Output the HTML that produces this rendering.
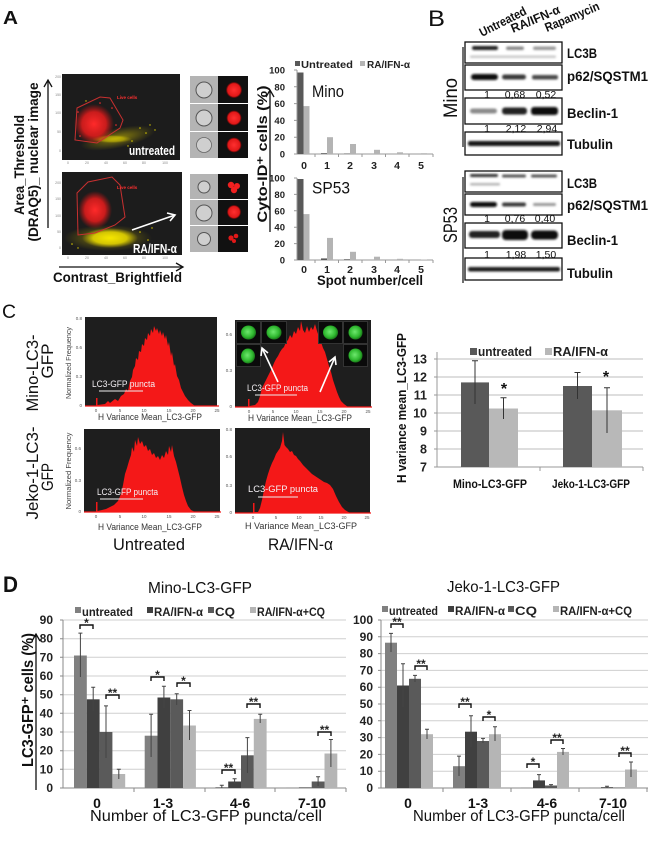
<!DOCTYPE html>
<html><head><meta charset="utf-8"><style>
html,body{margin:0;padding:0;background:#fff;}
svg{display:block;font-family:"Liberation Sans",Arial,sans-serif;}
</style></head><body>
<svg width="650" height="844" viewBox="0 0 650 844" xmlns="http://www.w3.org/2000/svg">
<defs>
<radialGradient id="rg" cx="50%" cy="50%" r="50%"><stop offset="0" stop-color="#ff2a2a"/><stop offset="0.6" stop-color="#e81c1c" stop-opacity="0.85"/><stop offset="1" stop-color="#d01010" stop-opacity="0"/></radialGradient>
<radialGradient id="yg" cx="50%" cy="50%" r="50%"><stop offset="0" stop-color="#f5e600"/><stop offset="0.6" stop-color="#e8d800" stop-opacity="0.85"/><stop offset="1" stop-color="#d0c000" stop-opacity="0"/></radialGradient>
<radialGradient id="yf" cx="50%" cy="50%" r="50%"><stop offset="0" stop-color="#d8c800" stop-opacity="0.6"/><stop offset="1" stop-color="#c0b000" stop-opacity="0"/></radialGradient>
<radialGradient id="gg" cx="45%" cy="45%" r="55%"><stop offset="0" stop-color="#6ee86e"/><stop offset="0.7" stop-color="#2fb82f"/><stop offset="1" stop-color="#1a7a1a"/></radialGradient>
<radialGradient id="rb" cx="50%" cy="50%" r="50%"><stop offset="0" stop-color="#ff3030"/><stop offset="0.8" stop-color="#e01818"/><stop offset="1" stop-color="#900" stop-opacity="0.3"/></radialGradient>
<filter id="bl" x="-20%" y="-150%" width="140%" height="400%"><feGaussianBlur stdDeviation="1"/></filter>
</defs>

<!-- ================= PANEL A ================= -->
<text x="3" y="24" font-size="18" font-weight="bold" textLength="15" lengthAdjust="spacingAndGlyphs" fill="#111">A</text>

<!-- scatter 1 -->
<rect x="62" y="74" width="118" height="86" fill="#1c1c1c"/>
<g font-size="3.5" fill="#888" text-anchor="end"><text x="61" y="78">200</text><text x="61" y="96">150</text><text x="61" y="114">100</text><text x="61" y="133">50</text><text x="61" y="152">0</text></g>
<g font-size="3.5" fill="#888" text-anchor="middle"><text x="68" y="164">0</text><text x="87" y="164">20</text><text x="106" y="164">40</text><text x="125" y="164">60</text><text x="144" y="164">80</text><text x="165" y="164">100</text></g>
<ellipse cx="118" cy="138" rx="38" ry="10" fill="url(#yf)" transform="rotate(-12 118 138)"/>
<ellipse cx="112" cy="139" rx="20" ry="4" fill="url(#yg)" opacity="0.55"/>
<g fill="#d8c800"><circle cx="140" cy="128" r="0.8"/><circle cx="146" cy="133" r="0.8"/><circle cx="132" cy="141" r="0.8"/><circle cx="150" cy="125" r="0.7"/><circle cx="128" cy="146" r="0.7"/><circle cx="86" cy="101" r="0.7"/><circle cx="155" cy="130" r="0.7"/></g>
<ellipse cx="94" cy="124" rx="20" ry="20" fill="url(#rg)"/>
<g fill="#ff3030"><circle cx="78" cy="112" r="0.8"/><circle cx="112" cy="108" r="0.8"/><circle cx="116" cy="125" r="0.8"/><circle cx="80" cy="136" r="0.8"/><circle cx="100" cy="103" r="0.8"/></g>
<polygon points="77,108 100,97 110,98 123,120 120,128 97,143 75,140" fill="none" stroke="#c83030" stroke-width="1"/>
<text x="117" y="99" font-size="4.5" fill="#ff3030" font-weight="bold">Live cells</text>
<text x="129" y="155" font-size="12.5" font-weight="bold" fill="#fff" textLength="46" lengthAdjust="spacingAndGlyphs">untreated</text>

<!-- scatter 2 -->
<rect x="62" y="172" width="120" height="83" fill="#1c1c1c"/>
<g font-size="3.5" fill="#888" text-anchor="end"><text x="61" y="184">200</text><text x="61" y="200">150</text><text x="61" y="217">100</text><text x="61" y="233">50</text><text x="61" y="249">0</text></g>
<g font-size="3.5" fill="#888" text-anchor="middle"><text x="68" y="259">0</text><text x="87" y="259">20</text><text x="106" y="259">40</text><text x="125" y="259">60</text><text x="144" y="259">80</text><text x="165" y="259">100</text></g>
<ellipse cx="108" cy="238" rx="44" ry="13" fill="url(#yf)"/>
<ellipse cx="95" cy="210" rx="17" ry="19" fill="url(#rg)"/>
<ellipse cx="110" cy="238" rx="28" ry="10" fill="url(#yg)"/>
<g fill="#d8c800"><circle cx="140" cy="232" r="0.8"/><circle cx="148" cy="240" r="0.8"/><circle cx="72" cy="244" r="0.8"/><circle cx="78" cy="248" r="0.7"/><circle cx="152" cy="228" r="0.7"/></g>
<polygon points="77,193 88,182 112,177 120,185 125,217 115,225 95,233 78,235" fill="none" stroke="#c83030" stroke-width="1"/>
<text x="117" y="189" font-size="4.5" fill="#ff3030" font-weight="bold">Live cells</text>
<path d="M132,230 L175,215" stroke="#fff" stroke-width="1.6"/>
<path d="M167,213 L175,215 L170,221" stroke="#fff" stroke-width="1.6" fill="none"/>
<text x="133" y="253" font-size="12.5" font-weight="bold" fill="#fff" textLength="44" lengthAdjust="spacingAndGlyphs">RA/IFN-α</text>

<!-- cell images plot1 -->
<g>
<rect x="190" y="76" width="28" height="27" fill="#b4b4b4"/>
<rect x="190" y="104" width="28" height="27" fill="#b4b4b4"/>
<rect x="190" y="132" width="28" height="26" fill="#b4b4b4"/>
<circle cx="204" cy="90" r="8" fill="#cfcfcf" stroke="#555" stroke-width="1"/>
<circle cx="204" cy="118" r="8" fill="#cfcfcf" stroke="#555" stroke-width="1"/>
<circle cx="204" cy="145" r="7.5" fill="#cfcfcf" stroke="#666" stroke-width="0.8"/>
<rect x="218" y="76" width="30" height="27" fill="#111"/>
<rect x="218" y="104" width="30" height="27" fill="#111"/>
<rect x="218" y="132" width="30" height="26" fill="#111"/>
<circle cx="234" cy="90" r="8" fill="url(#rb)"/>
<circle cx="234" cy="118" r="7.5" fill="url(#rb)"/>
<circle cx="234" cy="145" r="7.5" fill="url(#rb)"/>
</g>
<!-- cell images plot2 -->
<g>
<rect x="190" y="174" width="28" height="25" fill="#b4b4b4"/>
<rect x="190" y="200" width="28" height="25" fill="#b4b4b4"/>
<rect x="190" y="226" width="28" height="26" fill="#b4b4b4"/>
<circle cx="204" cy="187" r="6" fill="#cfcfcf" stroke="#555" stroke-width="1"/>
<circle cx="204" cy="213" r="8" fill="#cfcfcf" stroke="#555" stroke-width="1"/>
<circle cx="204" cy="239" r="6.5" fill="#cfcfcf" stroke="#555" stroke-width="1"/>
<rect x="218" y="174" width="30" height="25" fill="#111"/>
<rect x="218" y="200" width="30" height="25" fill="#111"/>
<rect x="218" y="226" width="30" height="26" fill="#111"/>
<circle cx="231" cy="185" r="3.2" fill="#f02020"/><circle cx="237" cy="186" r="3" fill="#f02020"/><circle cx="234" cy="190" r="3.2" fill="#f02020"/>
<circle cx="234" cy="212" r="7" fill="url(#rb)"/>
<circle cx="231" cy="238" r="2.6" fill="#e01818"/><circle cx="236" cy="236" r="2.3" fill="#e01818"/><circle cx="234" cy="241" r="2" fill="#e01818"/>
</g>

<!-- y label A -->
<text transform="translate(24,165) rotate(-90)" text-anchor="middle" font-size="14" font-weight="bold" fill="#111" textLength="100" lengthAdjust="spacingAndGlyphs">Area_Threshold</text>
<text transform="translate(38,162) rotate(-90)" text-anchor="middle" font-size="14" font-weight="bold" fill="#111" textLength="159" lengthAdjust="spacingAndGlyphs">(DRAQ5)_ nuclear image</text>
<path d="M48,228 L48,80" stroke="#111" stroke-width="1.3"/>
<path d="M44,87 L48,80 L52,87" stroke="#111" stroke-width="1.3" fill="none"/>
<path d="M59,267 L183,267" stroke="#111" stroke-width="1.3"/>
<path d="M176,263 L183,267 L176,271" stroke="#111" stroke-width="1.3" fill="none"/>
<text x="53" y="282" font-size="14" font-weight="bold" fill="#111" textLength="129" lengthAdjust="spacingAndGlyphs">Contrast_Brightfield</text>

<!-- A bar charts -->
<rect x="295" y="61" width="5" height="5" fill="#595959"/>
<text x="301" y="68" font-size="10" font-weight="bold" fill="#222" textLength="52" lengthAdjust="spacingAndGlyphs">Untreated</text>
<rect x="360" y="61" width="5" height="5" fill="#b4b4b4"/>
<text x="367" y="68" font-size="10" font-weight="bold" fill="#222" textLength="43" lengthAdjust="spacingAndGlyphs">RA/IFN-α</text>

<g font-size="9.5" font-weight="bold" fill="#222" text-anchor="end">
<text x="285" y="73.5">100</text><text x="285" y="90.3">80</text><text x="285" y="107.1">60</text><text x="285" y="123.9">40</text><text x="285" y="140.7">20</text><text x="285" y="157.5">0</text>
<text x="285" y="181.5">100</text><text x="285" y="197.9">80</text><text x="285" y="214.3">60</text><text x="285" y="230.7">40</text><text x="285" y="247.1">20</text><text x="285" y="263.5">0</text>
</g>
<g stroke="#999" stroke-width="1" fill="none">
<path d="M297,70 V154 H433"/>
<path d="M294,70 H297 M294,86.8 H297 M294,103.6 H297 M294,120.4 H297 M294,137.2 H297 M294,154 H297"/>
<path d="M315,154 V157 M338.5,154 V157 M362,154 V157 M385.5,154 V157 M409,154 V157 M433,154 V157"/>
<path d="M297,178 V260 H433"/>
<path d="M294,178 H297 M294,194.4 H297 M294,210.8 H297 M294,227.2 H297 M294,243.6 H297 M294,260 H297"/>
<path d="M315,260 V263 M338.5,260 V263 M362,260 V263 M385.5,260 V263 M409,260 V263 M433,260 V263"/>
</g>
<g fill="#595959">
<rect x="297.5" y="72.5" width="6" height="81.5"/>
<rect x="321" y="153.2" width="6" height="0.8"/>
<rect x="344" y="153.6" width="6" height="0.4"/>
</g>
<g fill="#b4b4b4">
<rect x="303.5" y="106.1" width="6" height="47.9"/>
<rect x="327" y="137.2" width="6" height="16.8"/>
<rect x="350" y="144" width="6" height="10"/>
<rect x="374" y="149.8" width="6" height="4.2"/>
<rect x="397" y="152.3" width="6" height="1.7"/>
<rect x="421" y="153.2" width="6" height="0.8"/>
</g>
<g fill="#595959">
<rect x="297.5" y="179" width="6" height="81"/>
<rect x="321" y="258.4" width="6" height="1.6"/>
<rect x="344" y="259.3" width="6" height="0.7"/>
</g>
<g fill="#b4b4b4">
<rect x="303.5" y="214.1" width="6" height="45.9"/>
<rect x="327" y="237.9" width="6" height="22.1"/>
<rect x="350" y="251.8" width="6" height="8.2"/>
<rect x="374" y="256.7" width="6" height="3.3"/>
<rect x="397" y="258.8" width="6" height="1.2"/>
<rect x="421" y="259.5" width="6" height="0.5"/>
</g>
<g font-size="10.5" font-weight="bold" fill="#222" text-anchor="middle">
<text x="304" y="169">0</text><text x="327" y="169">1</text><text x="350" y="169">2</text><text x="374" y="169">3</text><text x="397" y="169">4</text><text x="421" y="169">5</text>
<text x="304" y="273">0</text><text x="327" y="273">1</text><text x="350" y="273">2</text><text x="374" y="273">3</text><text x="397" y="273">4</text><text x="421" y="273">5</text>
</g>
<text x="312" y="97" font-size="17" fill="#111" textLength="32" lengthAdjust="spacingAndGlyphs">Mino</text>
<text x="312" y="193.5" font-size="16.5" fill="#111" textLength="38" lengthAdjust="spacingAndGlyphs">SP53</text>
<text x="317" y="285" font-size="13.5" font-weight="bold" fill="#111" textLength="106" lengthAdjust="spacingAndGlyphs">Spot number/cell</text>
<text transform="translate(267,154) rotate(-90)" text-anchor="middle" font-size="14" font-weight="bold" fill="#111" textLength="137" lengthAdjust="spacingAndGlyphs">Cyto-ID⁺ cells (%)</text>
<path d="M270,232 L270,90" stroke="#111" stroke-width="1.3"/>
<path d="M266,97 L270,90 L274,97" stroke="#111" stroke-width="1.3" fill="none"/>

<!-- ================= PANEL B ================= -->
<text x="428" y="26" font-size="22" fill="#111" textLength="17" lengthAdjust="spacingAndGlyphs">B</text>
<g font-size="12.5" font-weight="bold" fill="#111">
<text transform="translate(482,37) rotate(-27)" textLength="51" lengthAdjust="spacingAndGlyphs">Untreated</text>
<text transform="translate(513,33) rotate(-23)" textLength="52" lengthAdjust="spacingAndGlyphs">RA/IFN-α</text>
<text transform="translate(547,32) rotate(-23)" textLength="58" lengthAdjust="spacingAndGlyphs">Rapamycin</text>
</g>
<path d="M463,47 V147 M463,177 V283" stroke="#111" stroke-width="1.2"/>
<text transform="translate(457,98) rotate(-90)" text-anchor="middle" font-size="19" fill="#111" textLength="40" lengthAdjust="spacingAndGlyphs">Mino</text>
<text transform="translate(457,225) rotate(-90)" text-anchor="middle" font-size="19" fill="#111" textLength="36" lengthAdjust="spacingAndGlyphs">SP53</text>

<g fill="#fff" stroke="#111" stroke-width="1.3">
<rect x="465" y="42" width="97" height="21"/>
<rect x="465" y="65" width="97" height="25"/>
<rect x="465" y="98" width="97" height="26"/>
<rect x="465" y="132" width="97" height="23"/>
<rect x="465" y="171" width="97" height="21"/>
<rect x="465" y="194" width="97" height="21"/>
<rect x="465" y="223" width="97" height="25"/>
<rect x="465" y="258" width="97" height="22"/>
</g>
<g filter="url(#bl)">
<rect x="472" y="46" width="26" height="4" rx="2" fill="#222"/>
<rect x="506" y="46.5" width="18" height="3.5" rx="2" fill="#888"/>
<rect x="533" y="46.5" width="23" height="3.5" rx="2" fill="#999"/>
<rect x="470" y="55.5" width="86" height="2.5" rx="1" fill="#c8c8c8"/>
<rect x="471" y="74" width="27" height="6" rx="3" fill="#111"/>
<rect x="502" y="74.5" width="24" height="5" rx="2.5" fill="#3a3a3a"/>
<rect x="532" y="75" width="26" height="4.5" rx="2" fill="#4a4a4a"/>
<rect x="470" y="108.5" width="27" height="5" rx="2.5" fill="#8a8a8a"/>
<rect x="502" y="107.5" width="25" height="7" rx="3" fill="#222"/>
<rect x="531" y="107" width="27" height="8" rx="3" fill="#0d0d0d"/>
<rect x="468" y="141" width="92" height="5" rx="2" fill="#151515"/>
<rect x="470" y="174" width="28" height="3" rx="1.5" fill="#333"/>
<rect x="502" y="174.5" width="24" height="3" rx="1.5" fill="#555"/>
<rect x="531" y="174.5" width="26" height="3" rx="1.5" fill="#555"/>
<rect x="470" y="183" width="30" height="2.5" rx="1" fill="#b5b5b5"/>
<rect x="470" y="202" width="27" height="5" rx="2.5" fill="#111"/>
<rect x="502" y="202.5" width="24" height="4" rx="2" fill="#3a3a3a"/>
<rect x="533" y="203" width="23" height="3" rx="1.5" fill="#999"/>
<rect x="469" y="231" width="31" height="7" rx="3" fill="#202020"/>
<rect x="502" y="230" width="26" height="10" rx="4" fill="#080808"/>
<rect x="531" y="230.5" width="27" height="9" rx="4" fill="#101010"/>
<rect x="468" y="267" width="92" height="4.5" rx="2" fill="#1e1e1e"/>
</g>
<g font-size="14" font-weight="bold" fill="#111">
<text x="567" y="58" textLength="30" lengthAdjust="spacingAndGlyphs">LC3B</text>
<text x="567" y="81" textLength="81" lengthAdjust="spacingAndGlyphs">p62/SQSTM1</text>
<text x="567" y="118" textLength="51" lengthAdjust="spacingAndGlyphs">Beclin-1</text>
<text x="567" y="149" textLength="46" lengthAdjust="spacingAndGlyphs">Tubulin</text>
<text x="567" y="188" textLength="30" lengthAdjust="spacingAndGlyphs">LC3B</text>
<text x="567" y="210" textLength="81" lengthAdjust="spacingAndGlyphs">p62/SQSTM1</text>
<text x="567" y="245" textLength="51" lengthAdjust="spacingAndGlyphs">Beclin-1</text>
<text x="567" y="278" textLength="46" lengthAdjust="spacingAndGlyphs">Tubulin</text>
</g>
<g font-size="10.5" fill="#111" text-anchor="middle">
<text x="487" y="98">1</text><text x="515" y="98">0,68</text><text x="546" y="98">0,52</text>
<text x="487" y="132">1</text><text x="516" y="132">2,12</text><text x="547" y="132">2,94</text>
<text x="487" y="222">1</text><text x="515" y="222">0,76</text><text x="545" y="222">0,40</text>
<text x="487" y="258">1</text><text x="516" y="258">1,98</text><text x="546" y="258">1,50</text>
</g>

<!-- ================= PANEL C ================= -->
<text x="2" y="318" font-size="19" fill="#111" textLength="14" lengthAdjust="spacingAndGlyphs">C</text>
<text transform="translate(38,373) rotate(-90)" text-anchor="middle" font-size="17" fill="#111" textLength="77" lengthAdjust="spacingAndGlyphs">Mino-LC3-</text>
<text transform="translate(53,361) rotate(-90)" text-anchor="middle" font-size="17" fill="#111" textLength="35" lengthAdjust="spacingAndGlyphs">GFP</text>
<text transform="translate(38,473) rotate(-90)" text-anchor="middle" font-size="17" fill="#111" textLength="93" lengthAdjust="spacingAndGlyphs">Jeko-1-LC3-</text>
<text transform="translate(53,477) rotate(-90)" text-anchor="middle" font-size="17" fill="#111" textLength="28" lengthAdjust="spacingAndGlyphs">GFP</text>

<rect x="85" y="317" width="132" height="89" fill="#1e1e1e"/>
<rect x="235" y="320" width="136" height="87" fill="#1e1e1e"/>
<rect x="84" y="429" width="136" height="83" fill="#1e1e1e"/>
<rect x="235" y="428" width="135" height="85" fill="#1e1e1e"/>
<g fill="#f41818">
<path d="M96,406 L96,398 L97.5,398 L97.5,405 L105,404 L108,401 L110,403 L115,399 L118,401 L121,396 L124,394 L126,389 L128,391 L130,381 L132,377 L133,370 L135,366 L136,358 L138,360 L139,351 L141,352 L142,344 L144,346 L145,338 L147,340 L148,333 L150,336 L151,329 L153,333 L154,326 L156,331 L157,328 L159,334 L160,330 L162,336 L163,332 L165,339 L166,335 L168,346 L169,342 L171,356 L172,352 L174,366 L175,364 L177,376 L179,380 L181,388 L183,392 L185,396 L188,400 L191,403 L195,406 Z"/>
<path d="M248,407 L248,399 L249.5,399 L249.5,406 L255,405 L258,402 L260,396 L262,388 L264,384 L266,380 L268,376 L270,372 L272,368 L274,363 L276,359 L278,356 L280,352 L282,349 L284,347 L286,342 L288,340 L290,335 L292,338 L294,331 L296,334 L298,327 L300,331 L301,321 L303,330 L305,333 L307,326 L309,332 L311,327 L313,330 L315,324 L317,331 L319,337 L321,342 L323,348 L325,352 L327,359 L329,366 L331,372 L333,380 L335,386 L337,392 L339,397 L341,401 L344,404 L348,407 Z"/>
<path d="M96,512 L96,502 L97.5,502 L97.5,511 L102,510 L106,509 L110,507 L114,505 L118,501 L121,494 L123,485 L125,474 L127,468 L129,461 L131,455 L132,447 L134,452 L135,440 L137,446 L138,437 L140,444 L142,441 L144,447 L146,445 L148,451 L150,449 L152,455 L154,453 L156,458 L158,456 L160,460 L162,455 L164,458 L166,451 L168,455 L169,446 L171,452 L172,445 L174,456 L176,462 L178,470 L180,478 L182,487 L184,495 L186,501 L188,506 L191,510 L195,512 Z"/>
<path d="M253,513 L253,503 L254.5,503 L254.5,512 L258,512 L260,508 L262,500 L264,490 L266,481 L268,474 L270,468 L272,463 L274,459 L276,454 L278,451 L280,448 L282,441 L283,432 L284.5,445 L286,447 L288,449 L290,452 L292,451 L294,455 L296,456 L298,459 L300,461 L303,465 L306,468 L309,471 L312,474 L315,476 L318,478 L321,480 L324,482 L327,483 L330,485 L333,489 L336,496 L339,502 L342,507 L345,510 L350,513 Z"/>
</g>
<g stroke="#f41818" stroke-width="1.2">
<path d="M85,406 H219"/><path d="M235,407 H372"/><path d="M84,512 H221"/><path d="M235,513 H371"/>
</g>
<g font-size="4.5" fill="#555" text-anchor="middle">
<text x="96" y="412">0</text><text x="120" y="412">5</text><text x="144" y="412">10</text><text x="169" y="412">15</text><text x="193" y="412">20</text><text x="217" y="412">25</text>
<text x="249" y="413">0</text><text x="273" y="413">5</text><text x="296" y="413">10</text><text x="320" y="413">15</text><text x="344" y="413">20</text><text x="368" y="413">25</text>
<text x="96" y="518">0</text><text x="120" y="518">5</text><text x="144" y="518">10</text><text x="169" y="518">15</text><text x="193" y="518">20</text><text x="217" y="518">25</text>
<text x="253" y="519">0</text><text x="276" y="519">5</text><text x="299" y="519">10</text><text x="321" y="519">15</text><text x="344" y="519">20</text><text x="367" y="519">25</text>
</g>
<g font-size="4.5" fill="#555" text-anchor="end">
<text x="82" y="407">0</text><text x="82" y="378">0.3</text><text x="82" y="349">0.6</text><text x="82" y="320">0.8</text>
<text x="232" y="408">0</text><text x="232" y="372">0.3</text><text x="232" y="336">0.6</text>
<text x="81" y="513">0</text><text x="81" y="482">0.3</text><text x="81" y="450">0.6</text>
<text x="232" y="514">0</text><text x="232" y="487">0.3</text><text x="232" y="458">0.6</text><text x="232" y="431">0.8</text>
</g>
<text transform="translate(71,363) rotate(-90)" text-anchor="middle" font-size="7.5" fill="#444" textLength="72" lengthAdjust="spacingAndGlyphs">Normalized Frequency</text>
<text transform="translate(71,471) rotate(-90)" text-anchor="middle" font-size="7.5" fill="#444" textLength="77" lengthAdjust="spacingAndGlyphs">Normalized Frequency</text>
<g font-size="9.5" fill="#333">
<text x="98" y="420" textLength="104" lengthAdjust="spacingAndGlyphs">H Variance Mean_LC3-GFP</text>
<text x="248" y="421" textLength="104" lengthAdjust="spacingAndGlyphs">H Variance Mean_LC3-GFP</text>
<text x="98" y="530" textLength="104" lengthAdjust="spacingAndGlyphs">H Variance Mean_LC3-GFP</text>
<text x="245" y="529" textLength="112" lengthAdjust="spacingAndGlyphs">H Variance Mean_LC3-GFP</text>
</g>
<g font-size="9" fill="#f4f0f4">
<text x="92" y="387" textLength="63" lengthAdjust="spacingAndGlyphs">LC3-GFP puncta</text>
<text x="247" y="391" textLength="61" lengthAdjust="spacingAndGlyphs">LC3-GFP puncta</text>
<text x="97" y="495" textLength="61" lengthAdjust="spacingAndGlyphs">LC3-GFP puncta</text>
<text x="248" y="492" textLength="70" lengthAdjust="spacingAndGlyphs">LC3-GFP puncta</text>
</g>
<g stroke="#eee" stroke-width="1">
<path d="M99,391 H143"/><path d="M255,395 H297"/><path d="M100,499 H143"/><path d="M258,497 H298"/>
</g>
<g>
<rect x="236" y="321" width="51" height="23" fill="#333"/>
<rect x="236" y="344" width="25" height="23" fill="#333"/>
<rect x="237" y="322" width="23" height="21" fill="#0a0a0a"/>
<rect x="262" y="322" width="24" height="21" fill="#0a0a0a"/>
<rect x="237" y="345" width="23" height="21" fill="#0a0a0a"/>
<ellipse cx="248.5" cy="332.5" rx="7.5" ry="7" fill="url(#gg)"/>
<ellipse cx="274" cy="332.5" rx="7.5" ry="7" fill="url(#gg)"/>
<ellipse cx="248" cy="356" rx="7" ry="7.5" fill="url(#gg)"/>
<rect x="318" y="321" width="50" height="23" fill="#333"/>
<rect x="343" y="344" width="25" height="23" fill="#333"/>
<rect x="319" y="322" width="23" height="21" fill="#0a0a0a"/>
<rect x="344" y="322" width="23" height="21" fill="#0a0a0a"/>
<rect x="344" y="345" width="23" height="21" fill="#0a0a0a"/>
<ellipse cx="330.5" cy="332.5" rx="7.5" ry="7" fill="url(#gg)"/>
<ellipse cx="355.5" cy="332.5" rx="7" ry="7" fill="url(#gg)"/>
<ellipse cx="355.5" cy="355.5" rx="7" ry="7" fill="url(#gg)"/>
</g>
<g stroke="#fff" stroke-width="1.6" fill="none">
<path d="M278,382 L262,348"/><path d="M261,356 L262,348 L268,353"/>
<path d="M320,392 L335,357"/><path d="M329,362 L335,357 L336,365"/>
</g>
<text x="113" y="550" font-size="17" fill="#111" textLength="72" lengthAdjust="spacingAndGlyphs">Untreated</text>
<text x="268" y="550" font-size="17" fill="#111" textLength="65" lengthAdjust="spacingAndGlyphs">RA/IFN-α</text>

<!-- C bar chart -->
<g stroke="#bdbdbd" stroke-width="1">
<path d="M437,449 H643 M437,431 H643 M437,413 H643 M437,395 H643 M437,377 H643 M437,359 H643"/>
</g>
<path d="M437,352 V467 H643" stroke="#999" stroke-width="1" fill="none"/>
<path d="M434,467 H437 M434,449 H437 M434,431 H437 M434,413 H437 M434,395 H437 M434,377 H437 M434,359 H437 M540,467 V471 M643,467 V471" stroke="#999" stroke-width="1"/>
<rect x="461" y="382.4" width="28" height="84.6" fill="#595959"/>
<rect x="489" y="408.5" width="29" height="58.5" fill="#b8b8b8"/>
<rect x="563" y="386" width="29" height="81" fill="#595959"/>
<rect x="592" y="410.3" width="30" height="56.7" fill="#b8b8b8"/>
<g stroke="#333" stroke-width="1" fill="none">
<path d="M475,404 V360.8 M472,360.8 H478"/>
<path d="M503.5,419 V397.7 M500.5,397.7 H506.5"/>
<path d="M577.5,399 V372.5 M574.5,372.5 H580.5"/>
<path d="M607,433 V387.8 M604,387.8 H610"/>
</g>
<g font-size="16" font-weight="bold" fill="#111" text-anchor="middle">
<text x="504" y="394">*</text><text x="606" y="382">*</text>
</g>
<g font-size="12.5" font-weight="bold" fill="#222" text-anchor="end">
<text x="427" y="471.5">7</text><text x="427" y="453.5">8</text><text x="427" y="435.5">9</text><text x="427" y="417.5">10</text><text x="427" y="399.5">11</text><text x="427" y="381.5">12</text><text x="427" y="363.5">13</text>
</g>
<rect x="470" y="348" width="7" height="7" fill="#595959"/>
<text x="478" y="356" font-size="12.5" font-weight="bold" fill="#222" textLength="54" lengthAdjust="spacingAndGlyphs">untreated</text>
<rect x="545" y="348" width="7" height="7" fill="#b8b8b8"/>
<text x="553" y="356" font-size="12.5" font-weight="bold" fill="#222" textLength="55" lengthAdjust="spacingAndGlyphs">RA/IFN-α</text>
<g font-size="12" font-weight="bold" fill="#111">
<text x="453" y="488" textLength="74" lengthAdjust="spacingAndGlyphs">Mino-LC3-GFP</text>
<text x="552" y="488" textLength="78" lengthAdjust="spacingAndGlyphs">Jeko-1-LC3-GFP</text>
</g>
<text transform="translate(406,408) rotate(-90)" text-anchor="middle" font-size="13" font-weight="bold" fill="#111" textLength="150" lengthAdjust="spacingAndGlyphs">H variance mean_LC3-GFP</text>

<!-- ================= PANEL D ================= -->
<text x="3" y="592" font-size="22" font-weight="bold" fill="#111" textLength="15" lengthAdjust="spacingAndGlyphs">D</text>
<text x="148" y="593" font-size="16" fill="#111" textLength="104" lengthAdjust="spacingAndGlyphs">Mino-LC3-GFP</text>
<text x="447" y="592" font-size="16" fill="#111" textLength="113" lengthAdjust="spacingAndGlyphs">Jeko-1-LC3-GFP</text>

<g font-size="11.5" font-weight="bold" fill="#222">
<rect x="75" y="607" width="6" height="6" fill="#808080"/>
<text x="82" y="616" textLength="51" lengthAdjust="spacingAndGlyphs">untreated</text>
<rect x="147" y="607" width="6" height="6" fill="#404040"/>
<text x="154" y="616" textLength="49" lengthAdjust="spacingAndGlyphs">RA/IFN-α</text>
<rect x="208" y="607" width="6" height="6" fill="#5a5a5a"/>
<text x="215" y="616" textLength="20" lengthAdjust="spacingAndGlyphs">CQ</text>
<rect x="250" y="607" width="6" height="6" fill="#b5b5b5"/>
<text x="257" y="616" textLength="68" lengthAdjust="spacingAndGlyphs">RA/IFN-α+CQ</text>
<rect x="382" y="606" width="6" height="6" fill="#808080"/>
<text x="389" y="615" textLength="49" lengthAdjust="spacingAndGlyphs">untreated</text>
<rect x="448" y="606" width="6" height="6" fill="#404040"/>
<text x="455" y="615" textLength="50" lengthAdjust="spacingAndGlyphs">RA/IFN-α</text>
<rect x="508" y="606" width="6" height="6" fill="#5a5a5a"/>
<text x="515" y="615" textLength="22" lengthAdjust="spacingAndGlyphs">CQ</text>
<rect x="553" y="606" width="6" height="6" fill="#b5b5b5"/>
<text x="560" y="615" textLength="72" lengthAdjust="spacingAndGlyphs">RA/IFN-α+CQ</text>
</g>

<g stroke="#cfcfcf" stroke-width="1">
<path d="M63,769.3 H346 M63,750.7 H346 M63,732 H346 M63,713.3 H346 M63,694.7 H346 M63,676 H346 M63,657.3 H346 M63,638.7 H346 M63,620 H346"/>
<path d="M381,771.2 H648 M381,754.4 H648 M381,737.6 H648 M381,720.8 H648 M381,704 H648 M381,687.2 H648 M381,670.4 H648 M381,653.6 H648 M381,636.8 H648 M381,620 H648"/>
</g>
<g stroke="#8a8a8a" stroke-width="1" fill="none">
<path d="M63,620 V788 H346"/>
<path d="M60,788 H63 M60,769.3 H63 M60,750.7 H63 M60,732 H63 M60,713.3 H63 M60,694.7 H63 M60,676 H63 M60,657.3 H63 M60,638.7 H63 M60,620 H63"/>
<path d="M134,788 V792 M205,788 V792 M275,788 V792 M346,788 V792"/>
<path d="M381,620 V788 H648"/>
<path d="M378,788 H381 M378,771.2 H381 M378,754.4 H381 M378,737.6 H381 M378,720.8 H381 M378,704 H381 M378,687.2 H381 M378,670.4 H381 M378,653.6 H381 M378,636.8 H381 M378,620 H381"/>
<path d="M443,788 V792 M511,788 V792 M579,788 V792 M647,788 V792"/>
</g>
<g font-size="12" font-weight="bold" fill="#222" text-anchor="end">
<text x="53" y="792">0</text><text x="53" y="773.3">10</text><text x="53" y="754.7">20</text><text x="53" y="736">30</text><text x="53" y="717.3">40</text><text x="53" y="698.7">50</text><text x="53" y="680">60</text><text x="53" y="661.3">70</text><text x="53" y="642.7">80</text><text x="53" y="624">90</text>
<text x="373" y="792">0</text><text x="373" y="775.2">10</text><text x="373" y="758.4">20</text><text x="373" y="741.6">30</text><text x="373" y="724.8">40</text><text x="373" y="708">50</text><text x="373" y="691.2">60</text><text x="373" y="674.4">70</text><text x="373" y="657.6">80</text><text x="373" y="640.8">90</text><text x="373" y="624">100</text>
</g>

<g fill="#808080">
<rect x="74" y="655.5" width="12.8" height="132.5"/><rect x="144.7" y="735.7" width="12.8" height="52.3"/><rect x="215.4" y="787.1" width="12.8" height="0.9"/><rect x="286.1" y="787.6" width="12.8" height="0.4"/>
</g>
<g fill="#404040">
<rect x="86.8" y="699.3" width="12.8" height="88.7"/><rect x="157.5" y="697.5" width="12.8" height="90.5"/><rect x="228.2" y="781.5" width="12.8" height="6.5"/><rect x="298.9" y="787.4" width="12.8" height="0.6"/>
</g>
<g fill="#5a5a5a">
<rect x="99.6" y="732" width="12.8" height="56"/><rect x="170.3" y="699.3" width="12.8" height="88.7"/><rect x="241" y="755.3" width="12.8" height="32.7"/><rect x="311.7" y="781.5" width="12.8" height="6.5"/>
</g>
<g fill="#b5b5b5">
<rect x="112.4" y="774" width="12.8" height="14"/><rect x="183.1" y="725.5" width="12.8" height="62.5"/><rect x="253.8" y="718.9" width="12.8" height="69.1"/><rect x="324.5" y="753.5" width="12.8" height="34.5"/>
</g>
<g stroke="#444" stroke-width="1" fill="none">
<path d="M80.4,677 V633.1 M78.4,633.1 H82.4"/>
<path d="M93.2,711 V687.2 M91.2,687.2 H95.2"/>
<path d="M106,758 V705.9 M104,705.9 H108"/>
<path d="M118.8,779 V769.3 M116.8,769.3 H120.8"/>
<path d="M151.1,757 V714.3 M149.1,714.3 H153.1"/>
<path d="M163.9,708 V686.3 M161.9,686.3 H165.9"/>
<path d="M176.7,705 V693.7 M174.7,693.7 H178.7"/>
<path d="M189.5,740 V710.5 M187.5,710.5 H191.5"/>
<path d="M221.8,788 V785.2 M219.8,785.2 H223.8"/>
<path d="M234.6,784 V778.7 M232.6,778.7 H236.6"/>
<path d="M247.4,773 V737.6 M245.4,737.6 H249.4"/>
<path d="M260.2,723 V714.3 M258.2,714.3 H262.2"/>
<path d="M318.1,786 V776.8 M316.1,776.8 H320.1"/>
<path d="M330.9,767 V739.5 M328.9,739.5 H332.9"/>
</g>
<g fill="#808080">
<rect x="385" y="642.7" width="12" height="145.3"/><rect x="453" y="766.2" width="12" height="21.8"/><rect x="521" y="787.5" width="12" height="0.5"/><rect x="589" y="787.7" width="12" height="0.3"/>
</g>
<g fill="#404040">
<rect x="397" y="685.5" width="12" height="102.5"/><rect x="465" y="731.7" width="12" height="56.3"/><rect x="533" y="780.4" width="12" height="7.6"/><rect x="601" y="787.2" width="12" height="0.8"/>
</g>
<g fill="#5a5a5a">
<rect x="409" y="678.8" width="12" height="109.2"/><rect x="477" y="741" width="12" height="47"/><rect x="545" y="785.5" width="12" height="2.5"/><rect x="613" y="787.5" width="12" height="0.5"/>
</g>
<g fill="#b5b5b5">
<rect x="421" y="734.2" width="12" height="53.8"/><rect x="489" y="734.2" width="12" height="53.8"/><rect x="557" y="751.9" width="12" height="36.1"/><rect x="625" y="769.5" width="12" height="18.5"/>
</g>
<g stroke="#444" stroke-width="1" fill="none">
<path d="M391,652 V633.4 M389,633.4 H393"/>
<path d="M403,707 V663.7 M401,663.7 H405"/>
<path d="M415,682 V675.4 M413,675.4 H417"/>
<path d="M427,739 V729.2 M425,729.2 H429"/>
<path d="M459,776 V756.1 M457,756.1 H461"/>
<path d="M471,747 V715.8 M469,715.8 H473"/>
<path d="M483,743 V738.4 M481,738.4 H485"/>
<path d="M495,741 V726.7 M493,726.7 H497"/>
<path d="M539,786 V774.6 M537,774.6 H541"/>
<path d="M551,786 V784.6 M549,784.6 H553"/>
<path d="M563,755 V748.5 M561,748.5 H565"/>
<path d="M607,788 V786.3 M605,786.3 H609"/>
<path d="M631,777 V762 M629,762 H633"/>
</g>

<g stroke="#111" stroke-width="1.4" fill="none">
<path d="M80,629 V625 H93 V629"/>
<path d="M106,699 V695 H119 V699"/>
<path d="M151,681 V677 H164 V681"/>
<path d="M177,687 V683 H190 V687"/>
<path d="M222,774 V770 H235 V774"/>
<path d="M247,708 V704 H260 V708"/>
<path d="M318,736 V732 H331 V736"/>
<path d="M391,628 V624 H403 V628"/>
<path d="M415,670 V666 H427 V670"/>
<path d="M459,708 V704 H471 V708"/>
<path d="M483,721 V717 H495 V721"/>
<path d="M527,768 V764 H539 V768"/>
<path d="M551,744 V740 H563 V744"/>
<path d="M619,757 V753 H631 V757"/>
</g>
<g font-size="12" font-weight="bold" fill="#222" text-anchor="middle">
<text x="86.5" y="627">*</text>
<text x="112.5" y="697">**</text>
<text x="157.5" y="679">*</text>
<text x="183.5" y="685">*</text>
<text x="228.5" y="772">**</text>
<text x="253.5" y="706">**</text>
<text x="324.5" y="734">**</text>
<text x="397" y="626">**</text>
<text x="421" y="668">**</text>
<text x="465" y="706">**</text>
<text x="489" y="719">*</text>
<text x="533" y="766">*</text>
<text x="557" y="742">**</text>
<text x="625" y="755">**</text>
</g>

<g font-size="14" font-weight="bold" fill="#111" text-anchor="middle">
<text x="97" y="808">0</text><text x="163" y="808">1-3</text><text x="240" y="808">4-6</text><text x="312" y="808">7-10</text>
<text x="408" y="808">0</text><text x="478" y="808">1-3</text><text x="547" y="808">4-6</text><text x="613" y="808">7-10</text>
</g>
<text x="90" y="821" font-size="16" fill="#111" textLength="232" lengthAdjust="spacingAndGlyphs">Number of LC3-GFP puncta/cell</text>
<text x="413" y="821" font-size="16" fill="#111" textLength="212" lengthAdjust="spacingAndGlyphs">Number of LC3-GFP puncta/cell</text>
<text transform="translate(33,700) rotate(-90)" text-anchor="middle" font-size="16" font-weight="bold" fill="#111" textLength="134" lengthAdjust="spacingAndGlyphs">LC3-GFP⁺ cells (%)</text>
<path d="M36,790 L36,634" stroke="#111" stroke-width="1.3"/>
<path d="M32,641 L36,634 L40,641" stroke="#111" stroke-width="1.3" fill="none"/>
</svg>
</body></html>
